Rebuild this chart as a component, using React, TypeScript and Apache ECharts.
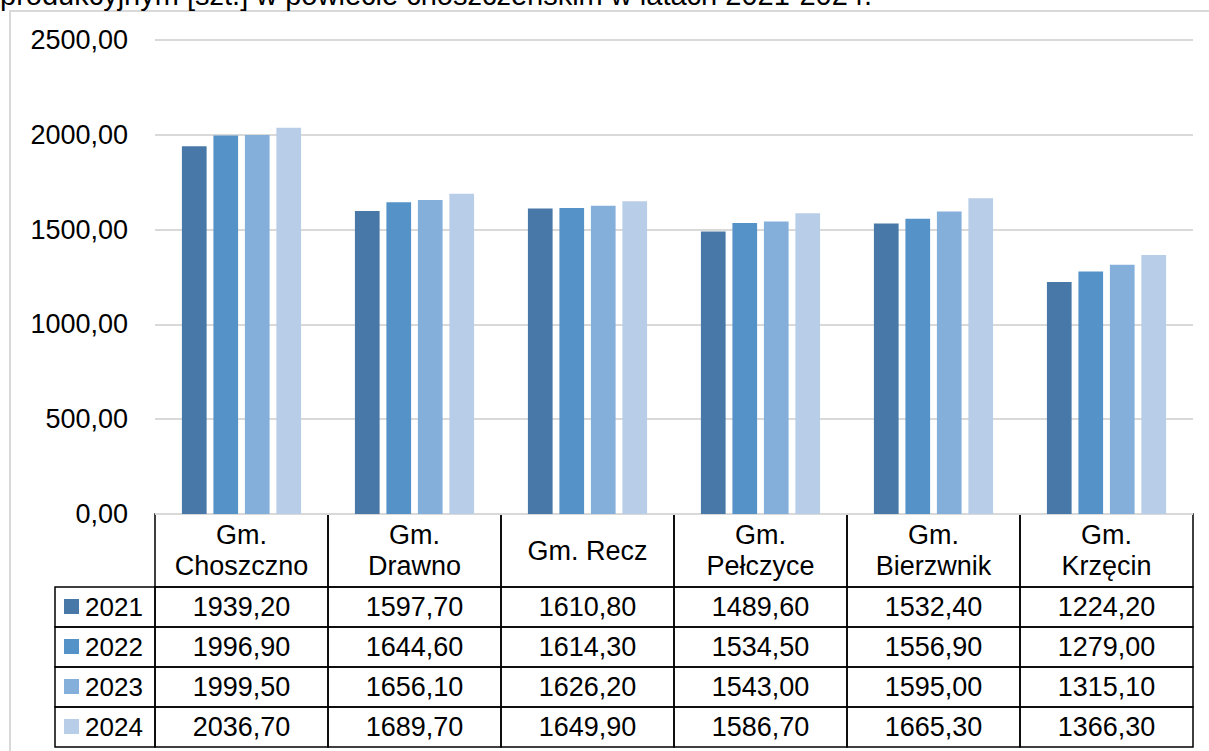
import React, { useEffect, useRef } from "react";
import * as echarts from "echarts";

const titleText = "produkcyjnym [szt.] w powiecie choszczeńskim w latach 2021-2024.";
const categories = ["Gm. Choszczno", "Gm. Drawno", "Gm. Recz", "Gm. Pełczyce", "Gm. Bierzwnik", "Gm. Krzęcin"];
const headerLabels = ["Gm.\nChoszczno", "Gm.\nDrawno", "Gm. Recz", "Gm.\nPełczyce", "Gm.\nBierzwnik", "Gm.\nKrzęcin"];
const years = ["2021", "2022", "2023", "2024"];
const values2021 = [1939.2, 1597.7, 1610.8, 1489.6, 1532.4, 1224.2];
const values2022 = [1996.9, 1644.6, 1614.3, 1534.5, 1556.9, 1279.0];
const values2023 = [1999.5, 1656.1, 1626.2, 1543.0, 1595.0, 1315.1];
const values2024 = [2036.7, 1689.7, 1649.9, 1586.7, 1665.3, 1366.3];
const seriesValues = [values2021, values2022, values2023, values2024];
const yMin = 0;
const yMax = 2500;
const yInterval = 500;
const colors = ["#4778A7", "#5592C8", "#85AFDB", "#B8CDE8"];

const FONT = "'Liberation Sans', Arial, sans-serif";
const fmt = (v: number) => v.toFixed(2).replace(".", ",");

// layout
const W = 1209;
const H = 751;
const gridLeft = 155;
const gridRight = 1193;
const gridTop = 40;
const gridBottom = 514;
const headerBottom = 587;
const rowH = 40;
const legendLeft = 55;

export default function App() {
  const ref = useRef<HTMLDivElement>(null);

  useEffect(() => {
    if (!ref.current) return;
    const chart = echarts.init(ref.current, undefined, { renderer: "svg" });
    const n = categories.length;
    const cellW = (gridRight - gridLeft) / n;
    const stroke = { stroke: "#000", lineWidth: 1.5, fill: "transparent" };
    const graphics: any[] = [];

    // outer frame
    graphics.push({
      type: "rect",
      shape: { x: 10, y: 11, width: 1400, height: 1000 },
      style: { fill: "transparent", stroke: "#d9d9d9", lineWidth: 2 },
      silent: true,
      z: -1,
    });
    // title (cut off at the top edge, as in the reference)
    graphics.push({
      type: "text",
      x: 0,
      y: -5,
      style: { text: titleText, fontSize: 29, fontFamily: FONT, fill: "#000", align: "left", verticalAlign: "middle" },
    });

    // header cells
    headerLabels.forEach((lab, i) => {
      const x = gridLeft + i * cellW;
      graphics.push({ type: "rect", shape: { x, y: gridBottom, width: cellW, height: headerBottom - gridBottom }, style: stroke });
      graphics.push({
        type: "text",
        x: x + cellW / 2,
        y: (gridBottom + headerBottom) / 2,
        style: { text: lab, fontSize: 27, lineHeight: 31, fontFamily: FONT, fill: "#000", align: "center", verticalAlign: "middle" },
      });
    });

    // data rows
    years.forEach((yr, r) => {
      const y = headerBottom + r * rowH;
      graphics.push({ type: "rect", shape: { x: legendLeft, y, width: gridLeft - legendLeft, height: rowH }, style: stroke });
      graphics.push({ type: "rect", shape: { x: 64, y: y + 12, width: 15, height: 15 }, style: { fill: colors[r] } });
      graphics.push({
        type: "text",
        x: 85,
        y: y + rowH / 2,
        style: { text: yr, fontSize: 26, fontFamily: FONT, fill: "#000", align: "left", verticalAlign: "middle" },
      });
      seriesValues[r].forEach((v, i) => {
        const x = gridLeft + i * cellW;
        graphics.push({ type: "rect", shape: { x, y, width: cellW, height: rowH }, style: stroke });
        graphics.push({
          type: "text",
          x: x + cellW / 2,
          y: y + rowH / 2,
          style: { text: fmt(v), fontSize: 27, fontFamily: FONT, fill: "#000", align: "center", verticalAlign: "middle" },
        });
      });
    });

    chart.setOption({
      animation: false,
      backgroundColor: "#fff",
      textStyle: { fontFamily: FONT },
      grid: { left: gridLeft, right: W - gridRight, top: gridTop, bottom: H - gridBottom, containLabel: false },
      xAxis: {
        type: "category",
        data: categories,
        axisLine: { show: false },
        axisTick: { show: false },
        axisLabel: { show: false },
      },
      yAxis: {
        type: "value",
        min: yMin,
        max: yMax,
        interval: yInterval,
        axisLine: { show: false },
        axisTick: { show: false },
        axisLabel: { formatter: (v: number) => fmt(v), fontSize: 27, color: "#000", margin: 27, fontFamily: FONT },
        splitLine: { lineStyle: { color: "#d9d9d9", width: 2 } },
      },
      series: years.map((yr, r) => ({
        name: yr,
        type: "bar",
        data: seriesValues[r],
        barWidth: 24.7,
        barGap: "27.5%",
        itemStyle: { color: colors[r] },
      })),
      graphic: graphics,
    });
    return () => chart.dispose();
  }, []);

  return <div ref={ref} style={{ position: "fixed", left: 0, top: 0, width: W, height: H }} />;
}
